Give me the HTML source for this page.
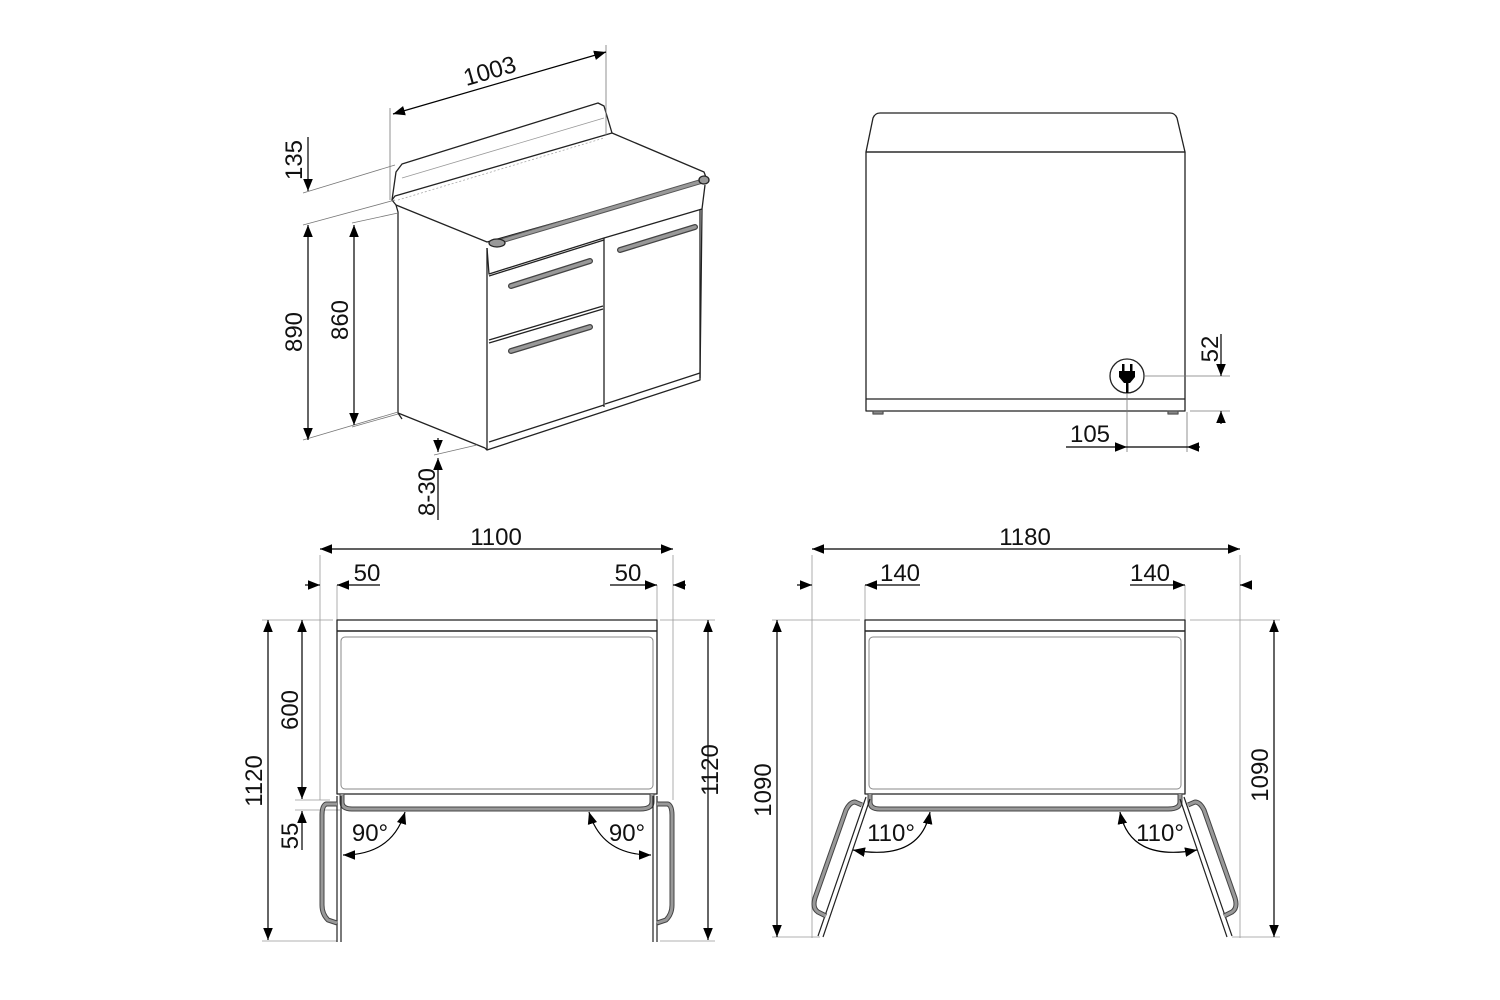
<!DOCTYPE html>
<html><head><meta charset="utf-8"><style>
html,body{margin:0;padding:0;background:#fff;}
svg{display:block;}
text{font-family:"Liberation Sans",sans-serif;font-size:24px;fill:#111;}
</style></head><body>
<svg width="1500" height="1000" viewBox="0 0 1500 1000" xmlns="http://www.w3.org/2000/svg">
<defs>
<marker id="a" viewBox="0 0 10 10" refX="10" refY="5" markerWidth="12" markerHeight="12" markerUnits="userSpaceOnUse" orient="auto-start-reverse"><path d="M0,1 L10,5 L0,9 z" fill="#000"/></marker>
</defs>
<g fill="none" stroke="#222" stroke-width="1.3" stroke-linejoin="round">
<!-- ISO VIEW -->
<!-- backsplash -->
<path d="M392,200 L396,172 L402,164 L598,103 L604,106 L612,133"/>
<path d="M402,178 L604,118" stroke="#999" stroke-width="0.8"/>
<path d="M392,200 L396,205 L487,242 L707,180 L704,172 L612,133 L395,196 Z" fill="#fff"/>
<path d="M398,200 L604,138" stroke="#aaa" stroke-width="0.8" stroke-dasharray="2,2"/>
<!-- hob front bar -->
<path d="M491,244 L706,180" stroke="#555" stroke-width="5"/>
<path d="M491,244 L706,180" stroke="#999" stroke-width="3"/>
<ellipse cx="497" cy="243" rx="8" ry="4" fill="#999"/>
<ellipse cx="704" cy="180" rx="5" ry="4" fill="#999"/>
<!-- control strip -->
<path d="M487,248 L489,274 L604,238 L702,209 L705,185"/>
<!-- side face -->
<path d="M396,205 L398,212 L398,413 L485,448"/>
<path d="M487,248 L487,450 L700,380 L702,209"/>
<path d="M487,450 L485,448"/>
<!-- divider and drawers -->
<path d="M604,238 L604,407"/>
<path d="M489,276 L604,240"/>
<path d="M489,340 L603,306"/>
<path d="M489,343 L603,309"/>
<path d="M489,442 L604,405"/>
<path d="M605,404 L700,373"/>
<path d="M700,210 L700,378"/>
<path d="M398,413 L402,419" />
<!-- handles -->
<g stroke="#444" stroke-width="6" stroke-linecap="round"><path d="M511,286 L590,261"/><path d="M511,351 L590,327"/><path d="M620,250 L695,227"/></g>
<g stroke="#999" stroke-width="3.5" stroke-linecap="round"><path d="M511,286 L590,261"/><path d="M511,351 L590,327"/><path d="M620,250 L695,227"/></g>
<!-- dims iso -->
<g stroke="#777" stroke-width="0.8">
<path d="M390,108 L390,200"/><path d="M606,45 L606,135"/>
<path d="M303,193 L395,165"/><path d="M303,225 L395,200"/>
<path d="M303,440 L398,412"/><path d="M352,223 L398,213"/><path d="M352,427 L398,414"/>
<path d="M434,455 L477,445"/>
</g>
<g stroke="#000" stroke-width="1.2">
<path d="M393,114 L606,52" marker-start="url(#a)" marker-end="url(#a)"/>
<path d="M308,137 L308,191" marker-end="url(#a)"/>
<path d="M308,225 L308,440" marker-start="url(#a)" marker-end="url(#a)"/>
<path d="M354,225 L354,425" marker-start="url(#a)" marker-end="url(#a)"/>
<path d="M438,438 L438,452" marker-end="url(#a)"/>
<path d="M438,520 L438,458" marker-end="url(#a)"/>
</g>

<!-- BACK VIEW -->
<path d="M866,152 L873,118 Q875,113 880,113 L1170,113 Q1175,113 1177,118 L1185,152 Z"/>
<rect x="866" y="152" width="319" height="259"/>
<path d="M866,399 L1185,399"/>
<rect x="873" y="411" width="10" height="3" fill="#888" stroke="#555"/>
<rect x="1168" y="411" width="10" height="3" fill="#888" stroke="#555"/>
<circle cx="1127" cy="376" r="17" fill="#fff"/>
<g stroke="#777" stroke-width="0.8">
<path d="M1144,376 L1230,376"/><path d="M1190,411 L1230,411"/>
<path d="M1127,393 L1127,452"/><path d="M1187,412 L1187,452"/>
</g>
<g stroke="#000" stroke-width="1.2">
<path d="M1221,334 L1221,376" marker-end="url(#a)"/>
<path d="M1221,424 L1221,411" marker-end="url(#a)"/>
<path d="M1066,447 L1127,447" marker-end="url(#a)"/>
<path d="M1200,447 L1187,447" marker-end="url(#a)"/>
<path d="M1127,447 L1187,447"/>
</g>

<!-- BOTTOM LEFT PLAN -->
<g stroke="#999" stroke-width="0.8">
<path d="M320,555 L320,800"/><path d="M337,585 L337,620"/><path d="M657,585 L657,620"/><path d="M673,555 L673,800"/>
<path d="M262,620 L333,620"/><path d="M660,620 L715,620"/>
<path d="M262,941 L337,941"/><path d="M660,941 L715,941"/>
<path d="M295,800 L330,800"/><path d="M295,810 L340,810"/>
</g>
<rect x="337" y="620" width="320" height="174" fill="#fff"/>
<path d="M337,631 L657,631" stroke-width="1.6"/>
<rect x="341" y="637" width="312" height="152" rx="4" stroke="#888" stroke-width="1"/>
<!-- door bar -->
<path d="M342,794 L342,802 Q342,809 352,809 L640,809 Q652,809 652,802 L652,794" stroke="#444" stroke-width="5"/>
<path d="M342,794 L342,802 Q342,809 352,809 L640,809 Q652,809 652,802 L652,794" stroke="#999" stroke-width="3"/>
<!-- doors -->
<path d="M337,796 L337,942 M341,796 L341,942" stroke-width="1.2"/>
<path d="M653,796 L653,942 M657,796 L657,942" stroke-width="1.2"/>
<path d="M337,804 L326,804 Q322,806 322,815 L322,905 Q322,914 328,920 L337,923" stroke="#444" stroke-width="5"/>
<path d="M337,804 L326,804 Q322,806 322,815 L322,905 Q322,914 328,920 L337,923" stroke="#999" stroke-width="3"/>
<path d="M657,804 L668,804 Q672,806 672,815 L672,905 Q672,914 666,920 L657,923" stroke="#444" stroke-width="5"/>
<path d="M657,804 L668,804 Q672,806 672,815 L672,905 Q672,914 666,920 L657,923" stroke="#999" stroke-width="3"/>
<g stroke="#000" stroke-width="1.2">
<path d="M320,549 L673,549" marker-start="url(#a)" marker-end="url(#a)"/>
<path d="M305,585 L320,585" marker-end="url(#a)"/>
<path d="M380,585 L337,585" marker-end="url(#a)"/>
<path d="M610,585 L657,585" marker-end="url(#a)"/>
<path d="M686,585 L673,585" marker-end="url(#a)"/>
<path d="M268,620 L268,940" marker-start="url(#a)" marker-end="url(#a)"/>
<path d="M302,620 L302,799" marker-start="url(#a)" marker-end="url(#a)"/>
<path d="M302,850 L302,811" marker-end="url(#a)"/>
<path d="M708,620 L708,940" marker-start="url(#a)" marker-end="url(#a)"/>
<path d="M343,855 Q392,855 405,812" marker-start="url(#a)" marker-end="url(#a)"/>
<path d="M651,855 Q602,855 589,812" marker-start="url(#a)" marker-end="url(#a)"/>
</g>

<!-- BOTTOM RIGHT PLAN -->
<g stroke="#999" stroke-width="0.8">
<path d="M812,555 L812,938"/><path d="M865,585 L865,620"/><path d="M1185,585 L1185,620"/><path d="M1240,555 L1240,938"/>
<path d="M772,620 L860,620"/><path d="M1190,620 L1280,620"/>
<path d="M772,937 L820,937"/><path d="M1232,937 L1280,937"/>
</g>
<rect x="865" y="620" width="320" height="174" fill="#fff"/>
<path d="M865,631 L1185,631" stroke-width="1.6"/>
<rect x="869" y="637" width="312" height="152" rx="4" stroke="#888" stroke-width="1"/>
<path d="M870,794 L870,802 Q870,809 880,809 L1168,809 Q1180,809 1180,802 L1180,794" stroke="#444" stroke-width="5"/>
<path d="M870,794 L870,802 Q870,809 880,809 L1168,809 Q1180,809 1180,802 L1180,794" stroke="#999" stroke-width="3"/>
<path d="M866,797 L818,936 M870,799 L823,937" stroke-width="1.2"/>
<path d="M1184,797 L1232,936 M1180,799 L1227,937" stroke-width="1.2"/>
<path d="M862,805 L855,802 Q850,802 846,810 L815,898 Q812,908 818,912 L826,916" stroke="#444" stroke-width="5"/>
<path d="M862,805 L855,802 Q850,802 846,810 L815,898 Q812,908 818,912 L826,916" stroke="#999" stroke-width="3"/>
<path d="M1188,805 L1195,802 Q1200,802 1204,810 L1235,898 Q1238,908 1232,912 L1224,916" stroke="#444" stroke-width="5"/>
<path d="M1188,805 L1195,802 Q1200,802 1204,810 L1235,898 Q1238,908 1232,912 L1224,916" stroke="#999" stroke-width="3"/>
<g stroke="#000" stroke-width="1.2">
<path d="M812,549 L1240,549" marker-start="url(#a)" marker-end="url(#a)"/>
<path d="M797,585 L812,585" marker-end="url(#a)"/>
<path d="M920,585 L865,585" marker-end="url(#a)"/>
<path d="M1130,585 L1185,585" marker-end="url(#a)"/>
<path d="M1250,585 L1240,585" marker-end="url(#a)"/>
<path d="M777,620 L777,937" marker-start="url(#a)" marker-end="url(#a)"/>
<path d="M1274,620 L1274,937" marker-start="url(#a)" marker-end="url(#a)"/>
<path d="M853,850 Q920,862 930,812" marker-start="url(#a)" marker-end="url(#a)"/>
<path d="M1197,850 Q1130,862 1120,812" marker-start="url(#a)" marker-end="url(#a)"/>
</g>
</g>

<!-- plug glyph -->
<g fill="#000">
<rect x="1122" y="364" width="2.5" height="7"/><rect x="1130" y="364" width="2.5" height="7"/>
<path d="M1119,371 L1135,371 L1135,377 L1130,383 L1124,383 L1119,377 Z"/>
<rect x="1126" y="383" width="2.5" height="10"/>
</g>

<!-- labels -->
<text x="490" y="79" text-anchor="middle" transform="rotate(-16 490 72)">1003</text>
<text transform="translate(302,160) rotate(-90)" text-anchor="middle">135</text>
<text transform="translate(302,332) rotate(-90)" text-anchor="middle">890</text>
<text transform="translate(348,320) rotate(-90)" text-anchor="middle">860</text>
<text transform="translate(435,492) rotate(-90)" text-anchor="middle">8-30</text>
<text transform="translate(1218,349) rotate(-90)" text-anchor="middle">52</text>
<text x="1090" y="442" text-anchor="middle">105</text>

<text x="496" y="545" text-anchor="middle">1100</text>
<text x="367" y="581" text-anchor="middle">50</text>
<text x="628" y="581" text-anchor="middle">50</text>
<text transform="translate(262,781) rotate(-90)" text-anchor="middle">1120</text>
<text transform="translate(298,710) rotate(-90)" text-anchor="middle">600</text>
<text transform="translate(298,836) rotate(-90)" text-anchor="middle">55</text>
<text transform="translate(718,770) rotate(-90)" text-anchor="middle">1120</text>
<text x="370" y="841" text-anchor="middle">90°</text>
<text x="627" y="841" text-anchor="middle">90°</text>

<text x="1025" y="545" text-anchor="middle">1180</text>
<text x="900" y="581" text-anchor="middle">140</text>
<text x="1150" y="581" text-anchor="middle">140</text>
<text transform="translate(771,790) rotate(-90)" text-anchor="middle">1090</text>
<text transform="translate(1268,775) rotate(-90)" text-anchor="middle">1090</text>
<text x="891" y="841" text-anchor="middle">110°</text>
<text x="1160" y="841" text-anchor="middle">110°</text>
</svg>
</body></html>
